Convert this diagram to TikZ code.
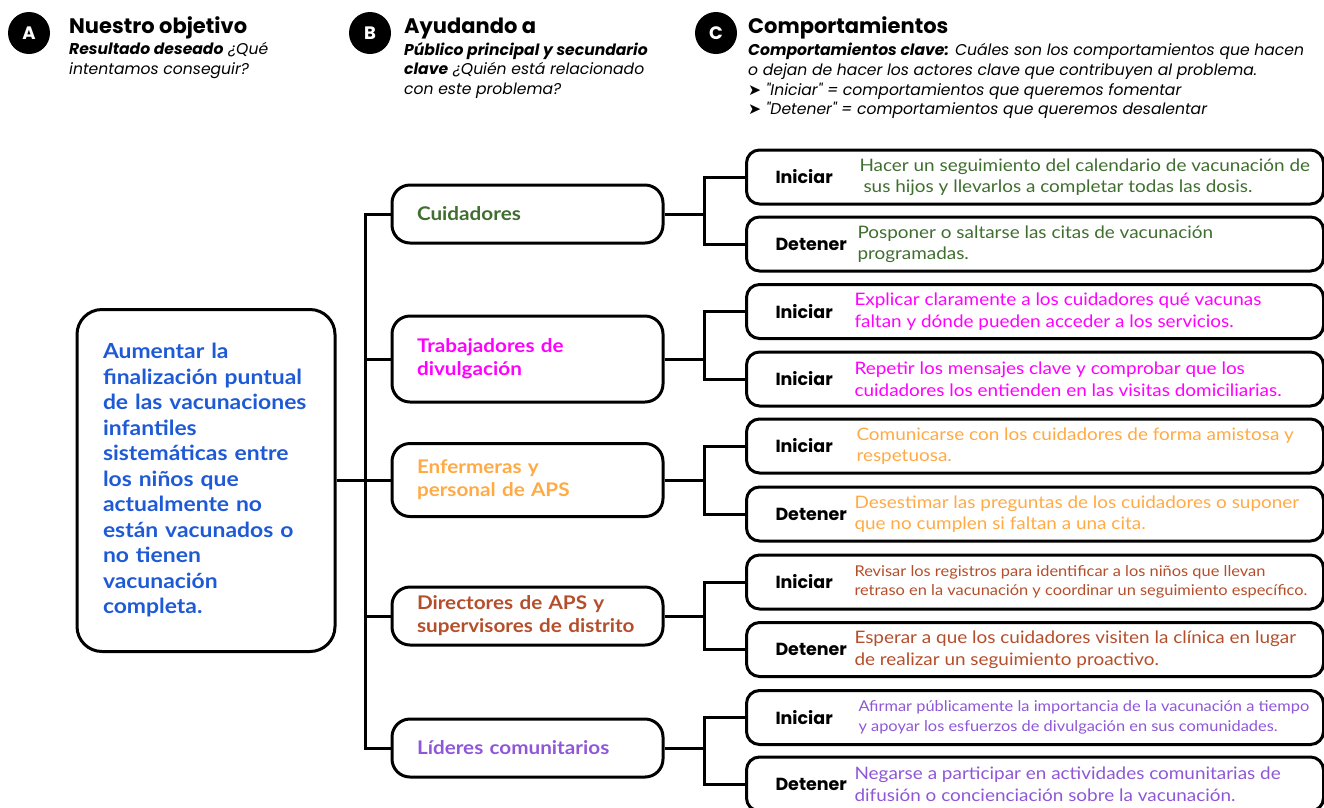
\documentclass[tikz,border=0pt]{standalone}
\usepackage{fontspec}
\setmainfont{Lato}[FakeStretch=1.1]
\newfontfamily\pop{Poppins}
\newfontfamily\sym{DejaVu Sans}
\definecolor{cgreen}{HTML}{3F6E2F}
\definecolor{cmag}{HTML}{FF00FF}
\definecolor{corange}{HTML}{FFAA45}
\definecolor{cbrown}{HTML}{B44E2B}
\definecolor{cpurple}{HTML}{8F57D8}
\definecolor{cblue}{HTML}{1F5AD6}
\newcommand{\actbody}[3]{\makebox[519pt][l]{\parbox[c]{#1pt}{\pop\bfseries\fontsize{17.5}{20}\selectfont #2}\parbox[c]{470pt}{\raggedright #3}}}
\newcommand{\dfont}{\fontsize{17.2}{21.5}\selectfont}
\newcommand{\dsmall}{\fontsize{14.9}{19.5}\selectfont}
\tikzset{
  x=1pt, y=-1pt,
  conn/.style={line width=3pt},
  circ/.style={circle, fill=black, minimum size=42pt, inner sep=0pt, text=white, font=\pop\bfseries\fontsize{18}{20}\selectfont},
  htitle/.style={anchor=base west, inner sep=0pt, font=\pop\bfseries\fontsize{21}{24}\selectfont},
  hsub/.style={anchor=north west, inner sep=0pt, align=left, font=\pop\itshape\fontsize{15.6}{19.7}\selectfont},
  mainbox/.style={draw, line width=3pt, rounded corners=25pt, minimum width=258pt, minimum height=342pt, inner xsep=26pt, text width=206pt, align=left, text=cblue, font=\bfseries\fontsize{20.8}{25.5}\selectfont},
  grpbox/.style={draw, line width=3pt, rounded corners=18pt, minimum width=271pt, inner xsep=25pt, text width=221pt, align=left, font=\bfseries\fontsize{18.8}{23}\selectfont},
  actbox/.style={draw, line width=3pt, rounded corners=13pt, minimum width=577pt, minimum height=54pt, inner xsep=29pt, inner ysep=0pt, anchor=west}
}
\begin{document}
\begin{tikzpicture}
\useasboundingbox (0,0) rectangle (1324,807);
\clip (0,0) rectangle (1324,807);
% headers
\node[circ] (ca) at (29,33) {A};
\node[htitle] (ta) at (69,33) {Nuestro objetivo};
\node[hsub] (sa) at (69,42) {{\bfseries Resultado deseado} ¿Qué\\intentamos conseguir?};
\node[circ] (cb) at (370,33) {B};
\node[htitle] (tb) at (404,33) {Ayudando a};
\node[hsub] (sb) at (404,42) {{\bfseries Público principal y secundario}\\{\bfseries clave} ¿Quién está relacionado\\con este problema?};
\node[circ] (cc) at (716,33) {C};
\node[htitle] (tc) at (748,33) {Comportamientos};
\node[hsub] (sc) at (748,43) {{\bfseries Comportamientos clave:} Cuáles son los comportamientos que hacen\\o dejan de hacer los actores clave que contribuyen al problema.\\{\sym\upshape ➤} "Iniciar" = comportamientos que queremos fomentar\\{\sym\upshape ➤} "Detener" = comportamientos que queremos desalentar};
% main box
\node[mainbox] (main) at (206,480.5) {Aumentar la\\finalización puntual\\de las vacunaciones\\infantiles\\sistemáticas entre\\los niños que\\actualmente no\\están vacunados o\\no tienen\\vacunación\\completa.};
% groups
\node[grpbox, minimum height=58pt, text=cgreen] (g1) at (527.5,214) {Cuidadores};
\node[grpbox, minimum height=86pt, text=cmag] (g2) at (527.5,359) {Trabajadores de\\divulgación};
\node[grpbox, minimum height=73pt, text=corange] (g3) at (527.5,480) {Enfermeras y\\personal de APS};
\node[grpbox, minimum height=58pt, text=cbrown] (g4) at (527.5,616) {Directores de APS y\\\mbox{supervisores de distrito}};
\node[grpbox, minimum height=58pt, text=cpurple] (g5) at (527.5,748) {Líderes comunitarios};
% actions
\node[actbox] (a1) at (745,177) {\actbody{84}{Iniciar}{\color{cgreen}\dfont Hacer un seguimiento del calendario de vacunación de\\\hspace*{4pt}sus hijos y llevarlos a completar todas las dosis.}};
\node[actbox] (a2) at (745,244) {\actbody{82}{Detener}{\color{cgreen}\dfont Posponer o saltarse las citas de vacunación\\programadas.}};
\node[actbox] (a3) at (745,311.5) {\actbody{79}{Iniciar}{\color{cmag}\dfont Explicar claramente a los cuidadores qué vacunas\\faltan y dónde pueden acceder a los servicios.}};
\node[actbox] (a4) at (745,379) {\actbody{79}{Iniciar}{\color{cmag}\dfont Repetir los mensajes clave y comprobar que los\\cuidadores los entienden en las visitas domiciliarias.}};
\node[actbox] (a5) at (745,446) {\actbody{81}{Iniciar}{\color{corange}\dfont Comunicarse con los cuidadores de forma amistosa y\\respetuosa.}};
\node[actbox] (a6) at (745,514) {\actbody{79}{Detener}{\color{corange}\dfont Desestimar las preguntas de los cuidadores o suponer\\que no cumplen si faltan a una cita.}};
\node[actbox] (a7) at (745,582) {\actbody{79}{Iniciar}{\color{cbrown}\dsmall Revisar los registros para identificar a los niños que llevan\\retraso en la vacunación y coordinar un seguimiento específico.}};
\node[actbox] (a8) at (745,649.5) {\actbody{79}{Detener}{\color{cbrown}\dfont Esperar a que los cuidadores visiten la clínica en lugar\\de realizar un seguimiento proactivo.}};
\node[actbox] (a9) at (745,717.5) {\actbody{83}{Iniciar}{\color{cpurple}\dsmall Afirmar públicamente la importancia de la vacunación a tiempo\\y apoyar los esfuerzos de divulgación en sus comunidades.}};
\node[actbox] (a10) at (745,784) {\actbody{79}{Detener}{\color{cpurple}\dfont Negarse a participar en actividades comunitarias de\\difusión o concienciación sobre la vacunación.}};
% connectors
\coordinate (trunk) at (365,0);
\coordinate (bus) at (704,0);
\draw[conn] (main.east) -- (main.east -| trunk);
\draw[conn] (g1.west) -- (g1.west -| trunk) -- (g5.west -| trunk) -- (g5.west);
\draw[conn] (g2.west) -- (g2.west -| trunk);
\draw[conn] (g3.west) -- (g3.west -| trunk);
\draw[conn] (g4.west) -- (g4.west -| trunk);
\foreach \g/\p/\q in {g1/a1/a2, g2/a3/a4, g3/a5/a6, g4/a7/a8, g5/a9/a10}{
  \draw[conn] (\g.east) -- (\g.east -| bus);
  \draw[conn] (\p.west) -- (\p.west -| bus) -- (\q.west -| bus) -- (\q.west);
}
\end{tikzpicture}
\end{document}
